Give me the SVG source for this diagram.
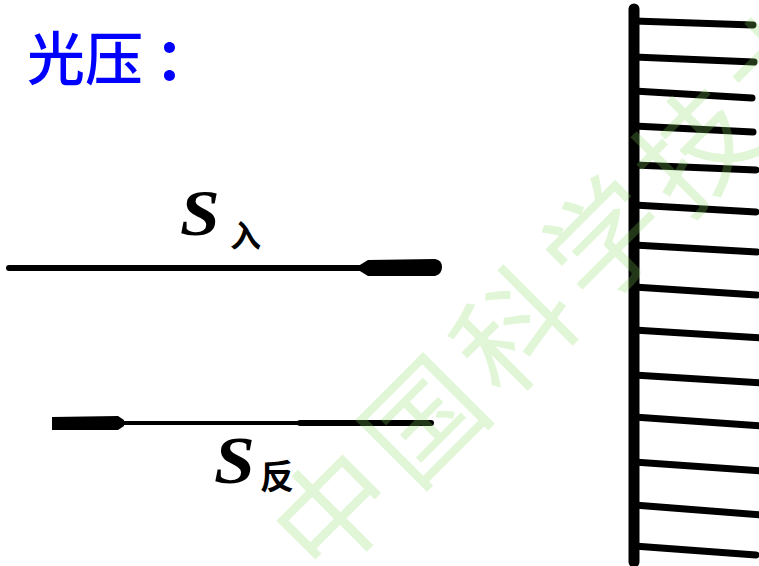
<svg xmlns="http://www.w3.org/2000/svg" width="759" height="566" viewBox="0 0 759 566">
  <style>
    .title { font-family: "Noto Sans CJK SC", "Noto Sans", sans-serif; font-size: 58px; font-weight: 500; fill: #0000ff; }
    .sym { font-family: "Liberation Serif", serif; font-style: italic; font-weight: bold; fill: #000; }
    .sub { font-family: "Noto Sans CJK SC", sans-serif; font-weight: bold; fill: #000; }
    .ink { stroke: #000; fill: none; stroke-linecap: round; }
    .hatch { stroke: #000; stroke-width: 7; stroke-linecap: round; fill: none; }
    .wm { font-family: "Noto Sans CJK SC", sans-serif; font-size: 116px; font-weight: 400; fill: rgb(130,220,90); fill-opacity: 0.25; }
  </style>
  <rect width="759" height="566" fill="#ffffff"/>

  <g id="title">
    <text class="title" x="27" y="80">光压<tspan dx="12" font-weight="700">：</tspan></text>
  </g>

  <g id="connectors">
    <g id="incident">
      <line class="ink" x1="9" y1="268" x2="362" y2="268" stroke-width="6"/>
      <path d="M355,268 L368,260 L435,259 Q442,260 442,267 Q442,274 435,276 L368,276 Z" fill="#000"/>
    </g>
    <g id="reflected">
      <path d="M122,423 L300,423" class="ink" stroke-width="4"/>
      <path d="M300,423 L431,423" class="ink" stroke-width="6"/>
      <path d="M52,417 L118,416 L124,420 L124,426 L118,430 L52,430 Z" fill="#000"/>
    </g>
  </g>

  <g id="label-in">
    <text class="sym" x="180" y="235" font-size="66" transform="translate(180,235) scale(1.08,1) translate(-180,-235)">S</text>
    <text class="sub" x="230" y="247" font-size="31">入</text>
  </g>
  <g id="label-out">
    <text class="sym" x="214" y="483" font-size="68" transform="translate(214,483) scale(1.08,1) translate(-214,-483)">S</text>
    <text class="sub" x="260" y="489" font-size="34">反</text>
  </g>

  <g id="wall">
    <line x1="634" y1="9" x2="634" y2="562" stroke="#000" stroke-width="11" stroke-linecap="round"/>
    <g>
      <line class="hatch" x1="634" y1="21" x2="753" y2="25"/>
      <line class="hatch" x1="634" y1="57" x2="754" y2="62"/>
      <line class="hatch" x1="634" y1="91" x2="752" y2="98"/>
      <line class="hatch" x1="634" y1="126" x2="753" y2="132"/>
      <line class="hatch" x1="634" y1="165" x2="756" y2="170"/>
      <line class="hatch" x1="634" y1="205" x2="756" y2="212"/>
      <line class="hatch" x1="634" y1="245" x2="757" y2="252"/>
      <line class="hatch" x1="634" y1="287" x2="757" y2="295"/>
      <line class="hatch" x1="634" y1="330" x2="762" y2="338"/>
      <line class="hatch" x1="634" y1="375" x2="762" y2="383"/>
      <line class="hatch" x1="634" y1="417" x2="762" y2="426"/>
      <line class="hatch" x1="634" y1="462" x2="762" y2="471"/>
      <line class="hatch" x1="634" y1="505" x2="762" y2="515"/>
      <line class="hatch" x1="634" y1="546" x2="756" y2="555"/>
    </g>
  </g>

  <g id="watermark" transform="translate(334,512) rotate(-45)">
    <text class="wm" x="-58" y="42" letter-spacing="12">中国科学技术</text>
  </g>
</svg>
